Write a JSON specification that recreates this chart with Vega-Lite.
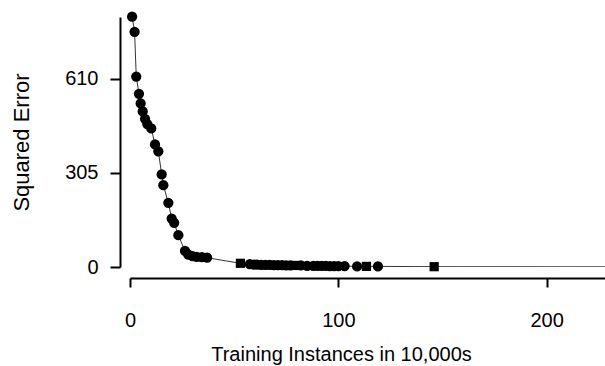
{
  "$schema": "https://vega.github.io/schema/vega-lite/v6.json",
  "width": 475,
  "height": 250,
  "autosize": {"type": "none"},
  "padding": {"left": 130, "top": 17, "right": 0, "bottom": 99},
  "background": "white",
  "config": {
    "view": {"stroke": null},
    "font": "Liberation Sans"
  },
  "data": {
    "values": [
      {"x": 1.0, "y": 811, "shape": "circle"},
      {"x": 2.2, "y": 762, "shape": "circle"},
      {"x": 3.0, "y": 617, "shape": "circle"},
      {"x": 4.3, "y": 561, "shape": "circle"},
      {"x": 5.1, "y": 530, "shape": "circle"},
      {"x": 6.1, "y": 504, "shape": "circle"},
      {"x": 7.2, "y": 480, "shape": "circle"},
      {"x": 8.3, "y": 463, "shape": "circle"},
      {"x": 10.2, "y": 449, "shape": "circle"},
      {"x": 12, "y": 397, "shape": "circle"},
      {"x": 13.6, "y": 375, "shape": "circle"},
      {"x": 15.2, "y": 300, "shape": "circle"},
      {"x": 16, "y": 265, "shape": "circle"},
      {"x": 18.4, "y": 208, "shape": "circle"},
      {"x": 20, "y": 157, "shape": "circle"},
      {"x": 21.2, "y": 143, "shape": "circle"},
      {"x": 23.2, "y": 103, "shape": "circle"},
      {"x": 26.4, "y": 52, "shape": "circle"},
      {"x": 28, "y": 40, "shape": "circle"},
      {"x": 30, "y": 35, "shape": "circle"},
      {"x": 32, "y": 33, "shape": "circle"},
      {"x": 34.5, "y": 32, "shape": "circle"},
      {"x": 37, "y": 30, "shape": "circle"},
      {"x": 53, "y": 12, "shape": "square"},
      {"x": 57.5, "y": 9, "shape": "circle"},
      {"x": 59.5, "y": 8, "shape": "circle"},
      {"x": 61, "y": 8, "shape": "circle"},
      {"x": 63, "y": 7, "shape": "circle"},
      {"x": 65, "y": 7, "shape": "circle"},
      {"x": 67, "y": 7, "shape": "circle"},
      {"x": 69, "y": 6, "shape": "circle"},
      {"x": 71, "y": 6, "shape": "circle"},
      {"x": 73, "y": 6, "shape": "circle"},
      {"x": 75, "y": 5, "shape": "circle"},
      {"x": 77, "y": 5, "shape": "circle"},
      {"x": 79, "y": 5, "shape": "square"},
      {"x": 82, "y": 5, "shape": "circle"},
      {"x": 85, "y": 4, "shape": "circle"},
      {"x": 88, "y": 4, "shape": "circle"},
      {"x": 90, "y": 4, "shape": "circle"},
      {"x": 92, "y": 4, "shape": "circle"},
      {"x": 94, "y": 4, "shape": "circle"},
      {"x": 96, "y": 3, "shape": "circle"},
      {"x": 98, "y": 3, "shape": "circle"},
      {"x": 100, "y": 3, "shape": "circle"},
      {"x": 103, "y": 3, "shape": "circle"},
      {"x": 109, "y": 2, "shape": "circle"},
      {"x": 113.5, "y": 2, "shape": "square"},
      {"x": 119, "y": 2, "shape": "circle"},
      {"x": 146, "y": 1, "shape": "square"},
      {"x": 260, "y": 0.5, "shape": "none"}
    ]
  },
  "layer": [
    {
      "mark": {"type": "line", "color": "black", "strokeWidth": 0.8, "clip": true},
      "encoding": {
        "x": {"field": "x", "type": "quantitative"},
        "y": {"field": "y", "type": "quantitative"}
      }
    },
    {
      "transform": [{"filter": "datum.shape !== 'none'"}],
      "mark": {"type": "point", "filled": true, "color": "black", "opacity": 1},
      "encoding": {
        "x": {
          "field": "x", "type": "quantitative",
          "scale": {"domain": [0, 228], "nice": false, "zero": false},
          "axis": {
            "title": "Training Instances in 10,000s",
            "values": [0, 100, 200],
            "grid": false,
            "offset": 11,
            "labelFlush": false,
            "domainColor": "black", "domainWidth": 2,
            "tickColor": "black", "tickWidth": 2, "tickSize": 9,
            "labelFontSize": 20, "labelColor": "black", "labelPadding": 23,
            "labelFont": "Liberation Sans",
            "titleFontSize": 20, "titleFontWeight": "normal", "titleColor": "black",
            "titleFont": "Liberation Sans", "titlePadding": 14,
            "titleX": 211, "titleAlign": "center"
          }
        },
        "y": {
          "field": "y", "type": "quantitative",
          "scale": {"domain": [0, 810], "nice": false, "zero": true},
          "axis": {
            "title": "Squared Error",
            "values": [0, 305, 610],
            "grid": false,
            "offset": 10,
            "labelFlush": false,
            "domainColor": "black", "domainWidth": 2,
            "tickColor": "black", "tickWidth": 2, "tickSize": 10,
            "labelFontSize": 20, "labelColor": "black", "labelPadding": 12,
            "labelFont": "Liberation Sans",
            "titleFontSize": 22, "titleFontWeight": "normal", "titleColor": "black",
            "titleFont": "Liberation Sans", "titlePadding": 31
          }
        },
        "shape": {
          "field": "shape", "type": "nominal",
          "scale": {"domain": ["circle", "square"], "range": ["circle", "square"]},
          "legend": null
        },
        "size": {
          "field": "shape", "type": "nominal",
          "scale": {"domain": ["circle", "square"], "range": [105, 85]},
          "legend": null
        }
      }
    }
  ]
}
